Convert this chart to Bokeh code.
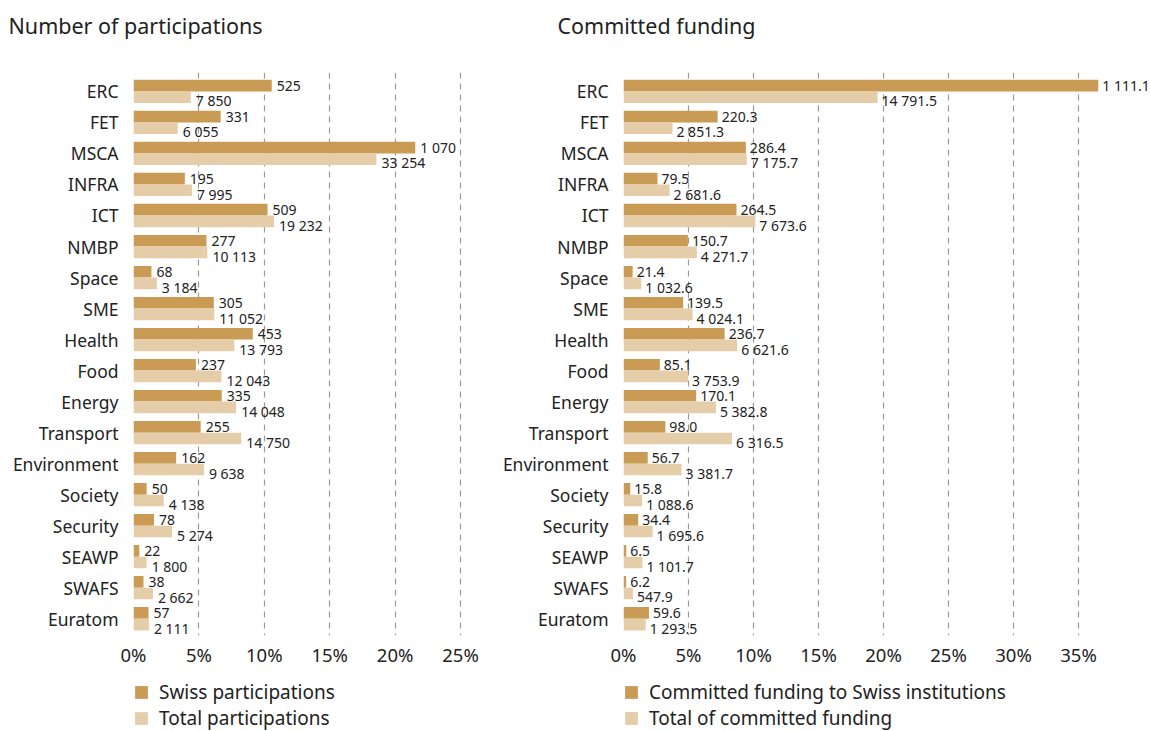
from bokeh.plotting import figure
from bokeh.models import Range1d, FixedTicker, Legend, LegendItem, Title, ColumnDataSource
from bokeh.layouts import row, column
from bokeh.embed import file_html
from bokeh.resources import INLINE
from bokeh.core.properties import value

categories = ["ERC", "FET", "MSCA", "INFRA", "ICT", "NMBP", "Space", "SME", "Health",
              "Food", "Energy", "Transport", "Environment", "Society", "Security",
              "SEAWP", "SWAFS", "Euratom"]
swiss_participations = [525, 331, 1070, 195, 509, 277, 68, 305, 453, 237, 335, 255, 162,
                        50, 78, 22, 38, 57]
total_participations = [7850, 6055, 33254, 7995, 19232, 10113, 3184, 11052, 13793, 12043,
                        14048, 14750, 9638, 4138, 5274, 1800, 2662, 2111]
swiss_funding = [1111.1, 220.3, 286.4, 79.5, 264.5, 150.7, 21.4, 139.5, 236.7, 85.1,
                 170.1, 98.0, 56.7, 15.8, 34.4, 6.5, 6.2, 59.6]
total_funding = [14791.5, 2851.3, 7175.7, 2681.6, 7673.6, 4271.7, 1032.6, 4024.1, 6621.6,
                 3753.9, 5382.8, 6316.5, 3381.7, 1088.6, 1695.6, 1101.7, 547.9, 1293.5]
ticks_left = [0, 5, 10, 15, 20, 25]
ticks_right = [0, 5, 10, 15, 20, 25, 30, 35]

DARK = "#C99B55"
LIGHT = "#E6CDAA"
TXT = "#222222"
FONT = "Noto Sans"
BAR_H = 0.375
TITLE_H = 44
MAIN_H = 635
LEG_H = 52


def fmt_int(v):
    return f"{v:,}".replace(",", " ")


def fmt_dec(v):
    return f"{v:,.1f}".replace(",", " ")


def panel(title, swiss, total, fmt, ticks, x_end, width, border_left, title_offset,
          label_offset, swiss_label, total_label):
    n = len(categories)
    s_sum = sum(swiss)
    t_sum = sum(total)
    idx = list(range(n))
    src = ColumnDataSource(dict(
        y_s=[i - BAR_H / 2 for i in idx],
        y_t=[i + BAR_H / 2 for i in idx],
        y_tl=[i + BAR_H / 2 + 0.12 for i in idx],
        s=[100.0 * v / s_sum for v in swiss],
        t=[100.0 * v / t_sum for v in total],
        s_lab=[fmt(v) for v in swiss],
        t_lab=[fmt(v) for v in total],
    ))

    # title strip (title sits in its above panel, frame is a thin empty band)
    tf = figure(width=width, height=TITLE_H, output_backend="svg", toolbar_location=None,
                x_range=Range1d(0, x_end), y_range=Range1d(0, 1),
                x_axis_type=None, y_axis_type=None,
                min_border_left=border_left, min_border_right=0,
                min_border_top=39, min_border_bottom=0)
    tf.grid.visible = False
    tf.outline_line_color = None
    tf.title = Title(text=title, align="left", vertical_align="bottom",
                     offset=title_offset, standoff=0, text_font=FONT,
                     text_font_size="21.5px", text_font_style="normal", text_color=TXT)

    p = figure(width=width, height=MAIN_H, output_backend="svg", toolbar_location=None,
               x_range=tf.x_range, y_range=Range1d(n - 1 + 0.54, -0.61),
               min_border_left=border_left, min_border_right=0, min_border_top=28,
               min_border_bottom=44)
    p.outline_line_color = None

    p.xgrid.ticker = FixedTicker(ticks=ticks)
    p.xgrid.grid_line_color = "#9a9a9a"
    p.xgrid.grid_line_dash = "6 5"
    p.xgrid.grid_line_width = 1.2
    p.ygrid.grid_line_color = None

    p.hbar(y="y_s", left=0, right="s", height=BAR_H, source=src,
           fill_color=DARK, line_color=None)
    p.hbar(y="y_t", left=0, right="t", height=BAR_H, source=src,
           fill_color=LIGHT, line_color=None)
    p.text(x="s", y="y_s", text="s_lab", source=src, x_offset=label_offset,
           text_font=value(FONT), text_font_size="14px", text_color=TXT,
           text_baseline="middle", text_align="left")
    p.text(x="t", y="y_tl", text="t_lab", source=src, x_offset=label_offset,
           text_font=value(FONT), text_font_size="14px", text_color=TXT,
           text_baseline="middle", text_align="left")

    xa = p.xaxis[0]
    xa.ticker = FixedTicker(ticks=ticks)
    xa.major_label_overrides = {t: f"{t}%" for t in ticks}
    xa.axis_line_color = None
    xa.major_tick_line_color = None
    xa.minor_tick_line_color = None
    xa.major_tick_out = 0
    xa.major_tick_in = 0
    xa.major_label_standoff = 6
    xa.major_label_text_font = FONT
    xa.major_label_text_font_size = "18.5px"
    xa.major_label_text_color = TXT

    ya = p.yaxis[0]
    ya.ticker = FixedTicker(ticks=idx)
    ya.major_label_overrides = {i: c for i, c in enumerate(categories)}
    ya.axis_line_color = None
    ya.major_tick_line_color = None
    ya.minor_tick_line_color = None
    ya.major_tick_out = 0
    ya.major_tick_in = 0
    ya.major_label_standoff = 15
    ya.major_label_text_font = FONT
    ya.major_label_text_font_size = "17.5px"
    ya.major_label_text_color = TXT

    # legend strip
    lg = figure(width=width, height=LEG_H, output_backend="svg", toolbar_location=None,
                x_range=tf.x_range, y_range=p.y_range,
                min_border_left=border_left, min_border_right=0, min_border_top=0,
                min_border_bottom=0)
    lg.axis.visible = False
    lg.grid.visible = False
    lg.outline_line_color = None
    l1 = lg.hbar(y="y_s", left=0, right="s", height=BAR_H, source=src,
                 fill_color=DARK, line_color=None, visible=False)
    l2 = lg.hbar(y="y_t", left=0, right="t", height=BAR_H, source=src,
                 fill_color=LIGHT, line_color=None, visible=False)
    legend = Legend(items=[LegendItem(label=swiss_label, renderers=[l1]),
                           LegendItem(label=total_label, renderers=[l2])],
                    location="top_left", orientation="vertical",
                    glyph_width=16, glyph_height=16, label_height=16,
                    label_standoff=10, spacing=0, padding=0, margin=0,
                    border_line_color=None, background_fill_alpha=0,
                    label_text_font=FONT, label_text_font_size="19px",
                    label_text_color=TXT)
    lg.add_layout(legend)
    return column(tf, p, lg)


left = panel("Number of participations", swiss_participations, total_participations,
             fmt_int, ticks_left, (498 - 133) / 13.08, 498, 133, -125, 5,
             "Swiss participations", "Total participations")
right = panel("Committed funding", swiss_funding, total_funding,
              fmt_dec, ticks_right, (1150 - 623) / 13.0, 652, 125, -66, 4,
              "Committed funding to Swiss institutions", "Total of committed funding")

layout = row(left, right)
open("out.html", "w").write(file_html(layout, INLINE))
